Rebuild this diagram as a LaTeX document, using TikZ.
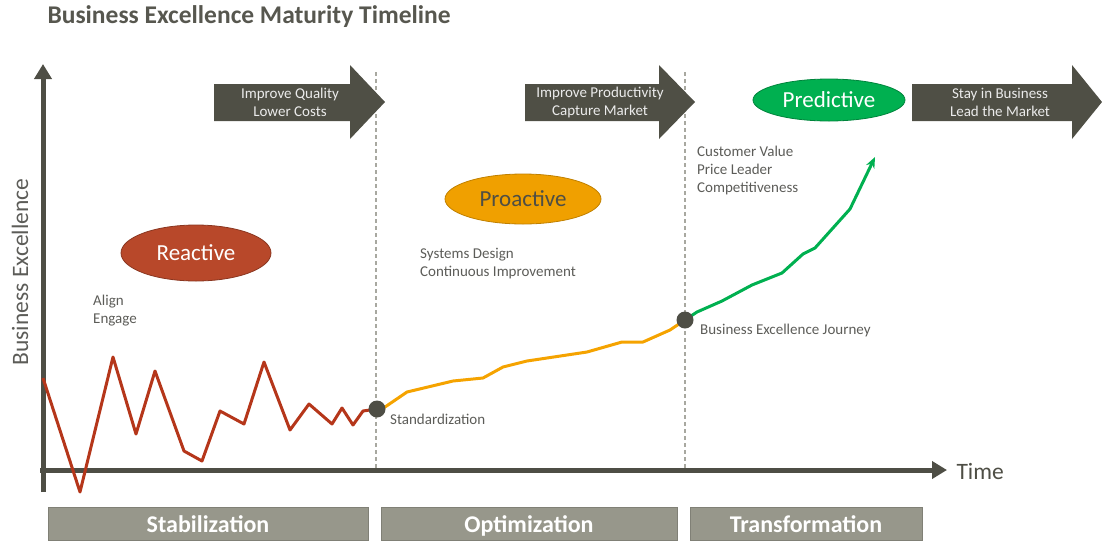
\documentclass[tikz,border=0pt]{standalone}
\usepackage{fontspec}
\setmainfont{Carlito}
\usepackage{tikz}
\usetikzlibrary{arrows.meta,shapes.geometric}
\definecolor{koyuGri}{HTML}{4E4E45}
\definecolor{baslikGri}{HTML}{57574F}
\definecolor{yaziGri}{HTML}{5C5C58}
\definecolor{kesikGri}{HTML}{A8A8A0}
\definecolor{okGri}{HTML}{4F4F45}
\definecolor{fazGri}{HTML}{97978B}
\definecolor{pasKirmizi}{HTML}{B5361A}
\definecolor{reaktif}{HTML}{B8482A}
\definecolor{turuncu}{HTML}{F5A300}
\definecolor{proaktif}{HTML}{F0A000}
\definecolor{yesil}{HTML}{00B050}

\begin{document}
\begin{tikzpicture}[x=1pt,y=-1pt,
  eksen/.style={koyuGri,line width=5pt,-{Triangle[length=15pt,width=17pt]}},
  ayrac/.style={kesikGri,line width=1.2pt,dash pattern=on 4pt off 3pt},
  elips/.style={ellipse,draw,line width=0.8pt,minimum height=#1,
                font=\fontsize{23}{27}\selectfont},
  okYazi/.style={text=white!92!black,align=center,font=\fontsize{15}{18}\selectfont},
  not/.style={anchor=west,inner sep=0pt,align=left,text=yaziGri,
              font=\fontsize{15}{18}\selectfont},
  faz/.style={fill=fazGri,draw=fazGri!85!black,line width=0.6pt,minimum height=33pt,
              text height=20pt,text depth=3pt,
              text=white,font=\fontsize{24}{28}\selectfont\bfseries},
  nokta/.style={circle,fill=koyuGri,minimum size=17pt,inner sep=0pt},
  seri/.style={line width=3pt,line join=round}]
\useasboundingbox (0,0) rectangle (1102,542);

\node[anchor=west,text=baslikGri,font=\fontsize{25.5}{30}\selectfont\bfseries]
  (baslik) at (44,17) {Business Excellence Maturity Timeline};

% eksenler
\draw[eksen] (43,492) -- (43,64);
\draw[eksen] (40,470) -- (947,470);
\node[anchor=west,text=koyuGri,font=\fontsize{23.5}{28}\selectfont] (zaman) at (953,471) {Time};
\node[rotate=90,text=yaziGri,font=\fontsize{23.5}{28}\selectfont] (yEksen) at (20,272) {Business Excellence};

% donem ayraclari
\draw[ayrac] (376,72) -- (376,470);
\draw[ayrac] (685,72) -- (685,470);

% buyuk oklar
\fill[okGri] (214,84) -- (350,84) -- (350,65) -- (385,102) -- (350,139) -- (350,121) -- (214,121) -- cycle;
\fill[okGri] (525,84) -- (659,84) -- (659,65) -- (695,102) -- (659,139) -- (659,121) -- (525,121) -- cycle;
\fill[okGri] (912,84) -- (1072,84) -- (1072,65) -- (1102,102) -- (1072,139) -- (1072,121) -- (912,121) -- cycle;
\node[okYazi] (ok1) at (290,102) {Improve Quality\\Lower Costs};
\node[okYazi] (ok2) at (600,102) {Improve Productivity\\Capture Market};
\node[okYazi] (ok3) at (1000,102) {Stay in Business\\Lead the Market};

% olgunluk seviyeleri
\node[elips=56pt,minimum width=150pt,fill=reaktif,draw=reaktif!75!black,text=white] (reak) at (196,253) {Reactive};
\node[elips=50pt,minimum width=156pt,fill=proaktif,draw=proaktif!80!black,text=koyuGri] (proak) at (523,199) {Proactive};
\node[elips=42pt,minimum width=152pt,fill=yesil,draw=yesil!75!black,text=white] (pred) at (829,100) {Predictive};

\node[not] (hizala) at (93,310.5) {Align\\Engage};
\node[not] (sistem) at (420,263.5) {Systems Design\\Continuous Improvement};
\node[not] (musteri) at (697,170) {Customer Value\\Price Leader\\Competitiveness};

% egriler
\coordinate (std) at (377,409);
\coordinate (yolcu) at (685,320);
\draw[seri,pasKirmizi] (43,378) -- (80,492) -- (113,357) -- (136,434) -- (155,371)
  -- (184,451) -- (202,461) -- (220,411) -- (244,424) -- (264,362) -- (290,430)
  -- (309,404) -- (332,424) -- (342,408) -- (353,425) -- (363,411) -- (std);
\draw[seri,turuncu] (std) -- (385,407) -- (407,392) -- (453,381) -- (483,378)
  -- (503,367) -- (527,361) -- (587,352) -- (622,342) -- (643,342) -- (670,330) -- (yolcu);
\draw[seri,yesil,-{Stealth[length=11pt,width=9pt]}] (yolcu) -- (697,312) -- (722,301)
  -- (752,285) -- (782,273) -- (803,254) -- (815,248) -- (850,209) -- (875,157);

\node[nokta] (stdNokta) at (std) {};
\node[nokta] (yolcuNokta) at (yolcu) {};
\node[not] (standart) at (390,419) {Standardization};
\node[not] (yolculuk) at (700,330) {Business Excellence Journey};

% donemler
\node[faz,minimum width=320pt] (stab) at (208,524) {Stabilization};
\node[faz,minimum width=296pt] (opt) at (529,524) {Optimization};
\node[faz,minimum width=232pt] (donus) at (806,524) {Transformation};
\end{tikzpicture}
\end{document}
